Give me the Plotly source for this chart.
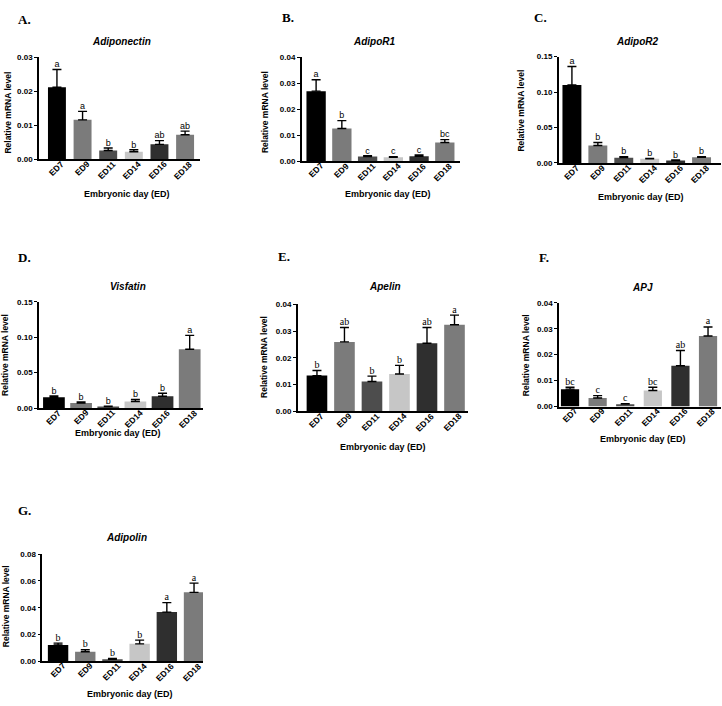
import plotly.graph_objects as go

# ---------------- data ----------------
days = ["ED7", "ED9", "ED11", "ED14", "ED16", "ED18"]

adiponectin_mean = [0.0212, 0.0116, 0.0026, 0.0022, 0.0044, 0.0072]
adiponectin_err = [0.0052, 0.0025, 0.0007, 0.0006, 0.0011, 0.0011]
adiponectin_letters = ["a", "a", "b", "b", "ab", "ab"]

adipor1_mean = [0.0269, 0.0126, 0.0018, 0.0015, 0.0019, 0.0072]
adipor1_err = [0.0044, 0.0030, 0.0003, 0.0003, 0.0005, 0.0011]
adipor1_letters = ["a", "b", "c", "c", "c", "bc"]

adipor2_mean = [0.110, 0.0246, 0.0075, 0.0060, 0.0033, 0.0079]
adipor2_err = [0.026, 0.0042, 0.0014, 0.0005, 0.0009, 0.0009]
adipor2_letters = ["a", "b", "b", "b", "b", "b"]

visfatin_mean = [0.0153, 0.0070, 0.0023, 0.0093, 0.0167, 0.0831]
visfatin_err = [0.0019, 0.0018, 0.0005, 0.0028, 0.0042, 0.0195]
visfatin_letters = ["b", "b", "b", "b", "b", "a"]

apelin_mean = [0.0134, 0.0260, 0.0112, 0.0140, 0.0255, 0.0324]
apelin_err = [0.0019, 0.0054, 0.0020, 0.0032, 0.0059, 0.0036]
apelin_letters = ["b", "ab", "b", "b", "ab", "a"]

apj_mean = [0.0067, 0.0033, 0.0009, 0.0062, 0.0157, 0.0272]
apj_err = [0.0007, 0.0009, 0.0002, 0.0012, 0.0059, 0.0035]
apj_letters = ["bc", "c", "c", "bc", "ab", "a"]

adipolin_mean = [0.0121, 0.0071, 0.0015, 0.0130, 0.0367, 0.0515]
adipolin_err = [0.0014, 0.0015, 0.0005, 0.0028, 0.0071, 0.0069]
adipolin_letters = ["b", "b", "b", "b", "a", "a"]

y_label = "Relative mRNA level"
x_label = "Embryonic day (ED)"

# ---------------- styles / layout ----------------
W, H = 722, 706
bar_colors = ["#000000", "#7b7b7b", "#4d4d4d", "#c6c6c6", "#2f2f2f", "#7b7b7b"]
SANS = "Arial, Liberation Sans, sans-serif"
SERIF = "Times New Roman, Liberation Serif, serif"

panels = [
    dict(label="A.", title="Adiponectin", mean=adiponectin_mean, err=adiponectin_err,
         letters=adiponectin_letters, ymax=0.03, dtick=0.01,
         rect=(39, 199.7, 54, 157.3), xr=(-0.70, 5.57), bw=0.70,
         lab=(16, 15.5), tit=(121, 38), yt=(8, 110), xt=(126.7, 192), lfont=SANS),
    dict(label="B.", title="AdipoR1", mean=adipor1_mean, err=adipor1_err,
         letters=adipor1_letters, ymax=0.04, dtick=0.01,
         rect=(301.7, 460, 53.7, 159.3), xr=(-0.56, 5.59), bw=0.75,
         lab=(280, 13.5), tit=(374, 38), yt=(264.5, 110), xt=(388, 192.7), lfont=SANS),
    dict(label="C.", title="AdipoR2", mean=adipor2_mean, err=adipor2_err,
         letters=adipor2_letters, ymax=0.15, dtick=0.05,
         rect=(558.7, 721, 53.3, 161), xr=(-0.51, 5.75), bw=0.73,
         lab=(532, 13.5), tit=(637.5, 38), yt=(521, 108), xt=(641, 195), lfont=SANS),
    dict(label="D.", title="Visfatin", mean=visfatin_mean, err=visfatin_err,
         letters=visfatin_letters, ymax=0.15, dtick=0.05,
         rect=(39, 203, 301.7, 409.3), xr=(-0.55, 5.49), bw=0.80,
         lab=(16, 256.5), tit=(127.5, 285.7), yt=(5.5, 356), xt=(118, 435), lfont=SANS),
    dict(label="E.", title="Apelin", mean=apelin_mean, err=apelin_err,
         letters=apelin_letters, ymax=0.04, dtick=0.01,
         rect=(297.7, 467.7, 304.3, 412.7), xr=(-0.70, 5.48), bw=0.75,
         lab=(276, 256), tit=(385.5, 286.3), yt=(264.5, 358), xt=(383, 448.5), lfont=SERIF),
    dict(label="F.", title="APJ", mean=apj_mean, err=apj_err,
         letters=apj_letters, ymax=0.04, dtick=0.01,
         rect=(559, 721, 302.7, 407.7), xr=(-0.40, 5.47), bw=0.66,
         lab=(537, 257), tit=(642.5, 286.7), yt=(526.7, 356), xt=(643, 441), lfont=SERIF),
    dict(label="G.", title="Adipolin", mean=adipolin_mean, err=adipolin_err,
         letters=adipolin_letters, ymax=0.08, dtick=0.02,
         rect=(42.3, 203, 557.3, 665.7), xr=(-0.58, 5.33), bw=0.75,
         lab=(16, 513), tit=(126, 540.7), yt=(6, 610), xt=(130, 699), lfont=SERIF),
]


def px(x):
    return x / W


def py(y):
    return 1 - y / H


fig = go.Figure()
annotations = []
layout = {}

for i, p in enumerate(panels):
    n = "" if i == 0 else str(i + 1)
    xa, ya = "x" + n, "y" + n
    x0, x1, ytop, ybot = p["rect"]
    fig.add_trace(go.Bar(
        x=days, y=p["mean"], xaxis=xa, yaxis=ya, width=p["bw"],
        marker=dict(color=bar_colors, line=dict(width=0)),
        error_y=dict(type="data", array=p["err"], arrayminus=[0] * len(days),
                     symmetric=False, color="#000000", thickness=1.4, width=4.5),
        showlegend=False, hoverinfo="skip",
    ))
    tops = [m + e for m, e in zip(p["mean"], p["err"])]
    fig.add_trace(go.Scatter(
        x=days, y=tops, xaxis=xa, yaxis=ya, mode="text", text=p["letters"],
        textposition="top center", cliponaxis=False,
        textfont=dict(family=p["lfont"], size=10 if p["lfont"] == SERIF else 9, color="#000000"),
        showlegend=False, hoverinfo="skip",
    ))
    nt = int(round(p["ymax"] / p["dtick"]))
    tickvals = [k * p["dtick"] for k in range(nt + 1)]
    layout["xaxis" + n] = dict(
        domain=[px(x0), px(x1)], anchor=ya, type="category",
        range=list(p["xr"]), showline=True, linecolor="#000000", linewidth=1.5,
        ticks="", showticklabels=False, showgrid=False, zeroline=False,
    )
    layout["yaxis" + n] = dict(
        domain=[py(ybot), py(ytop)], anchor=xa, range=[0, p["ymax"]],
        tickvals=tickvals, ticktext=["%.2f" % v for v in tickvals],
        showline=True, linecolor="#000000", linewidth=1.5,
        ticks="outside", ticklen=3, tickwidth=1.3, tickcolor="#000000",
        showgrid=False, zeroline=False,
        tickfont=dict(family=SANS, size=8, color="#000000", weight="bold"),
    )
    # rotated category labels
    for d in days:
        annotations.append(dict(
            x=d, xref=xa, y=py(ybot - 2), yref="paper",
            text="<b>" + d + "</b>", showarrow=False, textangle=-45,
            xanchor="right", yanchor="top", xshift=11, borderpad=0,
            font=dict(family=SANS, size=8.5, color="#000000"),
        ))
    annotations.append(dict(
        x=px(p["lab"][0]), y=py(p["lab"][1]), xref="paper", yref="paper",
        text="<b>" + p["label"] + "</b>", showarrow=False, xanchor="left", yanchor="middle",
        font=dict(family=SERIF, size=13, color="#000000"),
    ))
    annotations.append(dict(
        x=px(p["tit"][0]), y=py(p["tit"][1]), xref="paper", yref="paper",
        text="<b><i>" + p["title"] + "</i></b>", showarrow=False,
        xanchor="center", yanchor="middle",
        font=dict(family=SANS, size=10, color="#000000"),
    ))
    annotations.append(dict(
        x=px(p["yt"][0]), y=py(p["yt"][1]), xref="paper", yref="paper",
        text="<b>" + y_label + "</b>", showarrow=False, textangle=-90,
        xanchor="center", yanchor="middle",
        font=dict(family=SANS, size=8.5, color="#000000"),
    ))
    annotations.append(dict(
        x=px(p["xt"][0]), y=py(p["xt"][1]), xref="paper", yref="paper",
        text="<b>" + x_label + "</b>", showarrow=False,
        xanchor="center", yanchor="middle",
        font=dict(family=SANS, size=9, color="#000000"),
    ))

fig.update_layout(
    width=W, height=H, autosize=False,
    margin=dict(l=0, r=0, t=0, b=0),
    paper_bgcolor="#ffffff", plot_bgcolor="#ffffff",
    annotations=annotations, bargap=0.3,
    **layout,
)

fig.write_html(
    "out.html",
    config={"displayModeBar": False},
    post_script="document.body.style.margin='0px';document.body.style.padding='0px';"
                "document.body.style.overflow='hidden';",
)
